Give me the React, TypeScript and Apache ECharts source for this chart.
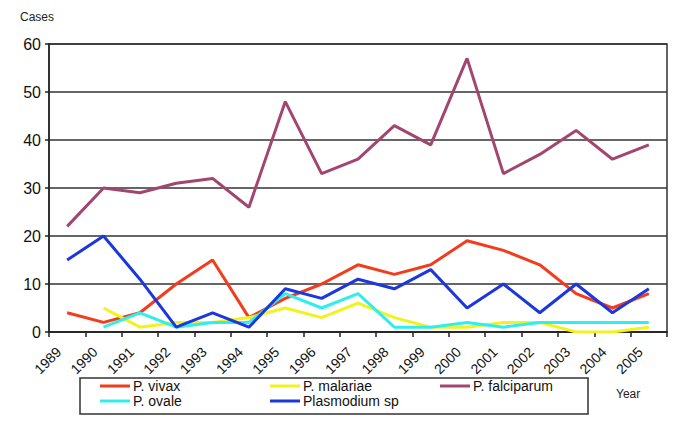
import React, { useEffect, useRef } from "react";
import * as echarts from "echarts";

const years = ["1989","1990","1991","1992","1993","1994","1995","1996","1997","1998","1999","2000","2001","2002","2003","2004","2005"];
const vivax = [4, 2, 4, 10, 15, 3, 7, 10, 14, 12, 14, 19, 17, 14, 8, 5, 8];
const malariae = [null, 5, 1, 2, 2, 3, 5, 3, 6, 3, 1, 1, 2, 2, 0, 0, 1];
const falciparum = [22, 30, 29, 31, 32, 26, 48, 33, 36, 43, 39, 57, 33, 37, 42, 36, 39];
const ovale = [null, 1, 4, 1, 2, 2, 8, 5, 8, 1, 1, 2, 1, 2, 2, 2, 2];
const plasmodiumSp = [15, 20, 11, 1, 4, 1, 9, 7, 11, 9, 13, 5, 10, 4, 10, 4, 9];

const FONT = "'Liberation Sans', Arial, sans-serif";

const seriesDefs = [
  { name: "P. vivax", data: vivax, color: "#f23c1c" },
  { name: "P. malariae", data: malariae, color: "#f2f21e" },
  { name: "P. falciparum", data: falciparum, color: "#a2466f" },
  { name: "P. ovale", data: ovale, color: "#30eeee" },
  { name: "Plasmodium sp", data: plasmodiumSp, color: "#1b37dd" },
];

const legendPos = [
  { left: 100, top: 379 },
  { left: 270, top: 379 },
  { left: 440, top: 379 },
  { left: 100, top: 394 },
  { left: 270, top: 394 },
];

export default function App() {
  const ref = useRef<HTMLDivElement>(null);
  useEffect(() => {
    if (!ref.current) return;
    const chart = echarts.init(ref.current, null, { renderer: "svg" });
    chart.setOption({
      animation: false,
      backgroundColor: "#fff",
      textStyle: { fontFamily: FONT },
      grid: {
        left: 49, right: 18, top: 44, bottom: 94,
        show: true, borderColor: "#333", borderWidth: 1.5, backgroundColor: "transparent",
      },
      xAxis: {
        type: "category",
        data: years,
        boundaryGap: true,
        axisLine: { lineStyle: { color: "#222", width: 1.5 } },
        axisTick: { show: true, length: 5, inside: false, lineStyle: { color: "#222", width: 1.5 } },
        axisLabel: {
          rotate: 45, color: "#111", fontSize: 14, fontFamily: FONT, margin: 9, interval: 0,
          formatter: (v: string) => `{a|${v}}{gap|}`,
          rich: {
            a: { fontSize: 14, color: "#111", fontFamily: FONT },
            gap: { width: 12 },
          },
        },
      },
      yAxis: {
        type: "value",
        min: 0, max: 60, interval: 10,
        axisLine: { show: true, lineStyle: { color: "#222", width: 1.5 } },
        axisTick: { show: true, length: 4, lineStyle: { color: "#222", width: 1.5 } },
        axisLabel: { color: "#111", fontSize: 16, fontFamily: FONT, margin: 8 },
        splitLine: { show: true, lineStyle: { color: "#333", width: 1.5 } },
      },
      legend: seriesDefs.map((s, i) => ({
        data: [{ name: s.name, icon: "rect" }],
        left: legendPos[i].left,
        top: legendPos[i].top,
        itemWidth: 30,
        itemHeight: 3,
        padding: 0,
        textStyle: { fontSize: 14, color: "#111", fontFamily: FONT, padding: [0, 0, 0, -2] },
      })),
      graphic: [
        {
          type: "rect",
          shape: { x: 80, y: 378, width: 508, height: 36 },
          style: { fill: "none", stroke: "#333", lineWidth: 1.5 },
          silent: true,
        },
        {
          type: "text",
          left: 20, top: 11,
          style: { text: "Cases", fontSize: 12, fill: "#222", fontFamily: FONT },
        },
        {
          type: "text",
          left: 616, top: 388,
          style: { text: "Year", fontSize: 12, fill: "#222", fontFamily: FONT },
        },
      ],
      series: seriesDefs.map((s) => ({
        name: s.name,
        type: "line",
        data: s.data,
        symbol: "none",
        color: s.color,
        itemStyle: { color: s.color },
        lineStyle: { color: s.color, width: 3 },
        connectNulls: false,
      })),
    });
    return () => chart.dispose();
  }, []);
  return <div ref={ref} style={{ width: 685, height: 426, margin: -8 }} />;
}
